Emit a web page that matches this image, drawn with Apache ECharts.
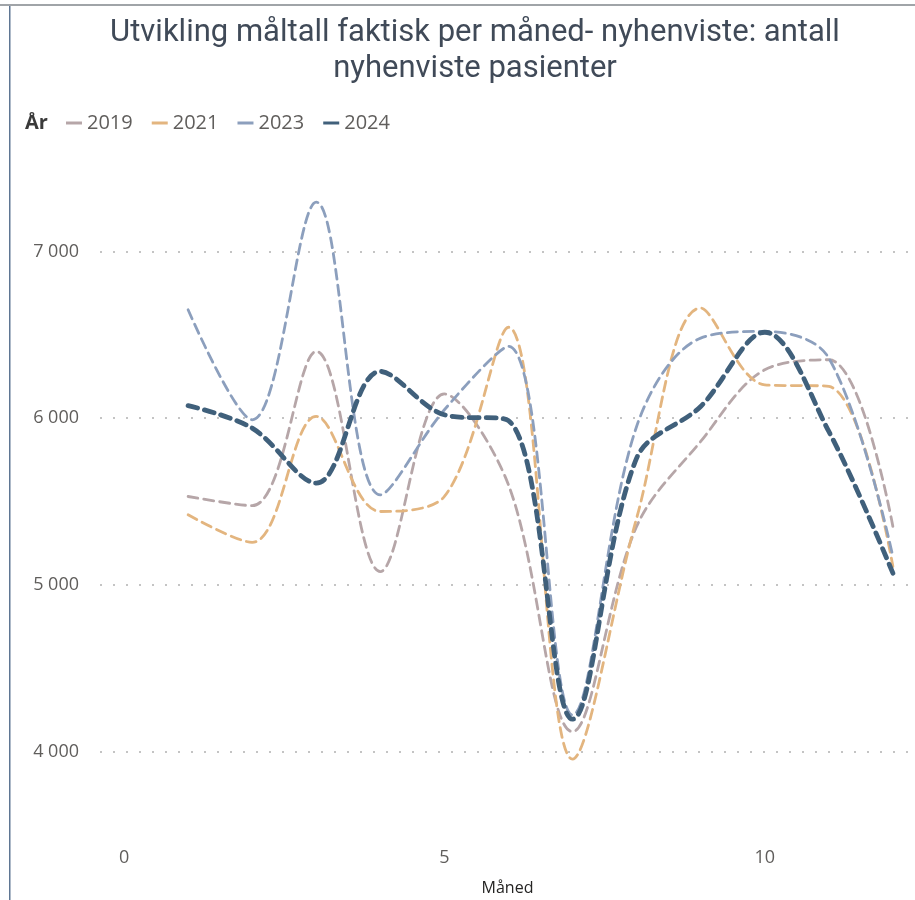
<!DOCTYPE html>
<html>
<head>
<meta charset="utf-8">
<title>Utvikling måltall</title>
<script src="https://cdn.jsdelivr.net/npm/echarts@6/dist/echarts.min.js"></script>
<style>
  html, body { margin: 0; padding: 0; background: #fff; }
  #chart { width: 915px; height: 900px; }
</style>
</head>
<body>
<div id="chart"></div>
<script>
// data (antall nyhenviste per måned)
var months = [1, 2, 3, 4, 5, 6, 7, 8, 9, 10, 11, 12]
var years = ['2019', '2021', '2023', '2024']
var y2019 = [5530, 5475, 6400, 5080, 6145, 5600, 4120, 5350, 5860, 6290, 6350, 5350]
var y2021 = [5420, 5255, 6010, 5440, 5530, 6545, 3955, 5400, 6660, 6200, 6190, 5110]
var y2023 = [6650, 5990, 7295, 5540, 6050, 6430, 4220, 5950, 6480, 6520, 6360, 5170]
var y2024 = [6075, 5940, 5610, 6280, 6020, 5985, 4195, 5760, 6070, 6515, 5920, 5070]
var yTicks = [4000, 5000, 6000, 7000]
var xTicks = [0, 5, 10]

var colors = ['#b6a6a8', '#e3b57f', '#8c9fbd', '#40607b']

function pairs(vals) {
  return months.map(function(m, i) { return [m, vals[i]] })
}

function fmt(v) {
  return String(v).replace(/\B(?=(\d{3})+(?!\d))/g, ' ')
}

function lineSeries(name, vals, color, thick) {
  return {
    name: name,
    type: 'line',
    smooth: 0.35,
    symbol: 'none',
    data: pairs(vals),
    lineStyle: {
      color: color,
      width: thick ? 4.8 : 2.8,
      type: thick ? [10, 7] : [10, 6],
      cap: 'round'
    },
    itemStyle: { color: color }
  }
}

var chart = echarts.init(document.getElementById('chart'))
chart.setOption({
  animation: false,
  title: {
    text: 'Utvikling måltall faktisk per måned- nyhenviste: antall\nnyhenviste pasienter',
    left: 470,
    textAlign: 'center',
    top: 10,
    textStyle: {
      fontFamily: 'Roboto, sans-serif',
      fontSize: 31,
      fontWeight: 'normal',
      color: '#404a58',
      lineHeight: 36
    }
  },
  graphic: [
    // frame lines like the report tile
    { type: 'rect', shape: { x: 0, y: 4, width: 915, height: 2 }, style: { fill: '#a0a4a8' } },
    { type: 'rect', shape: { x: 9, y: 6, width: 1.5, height: 894 }, style: { fill: '#5f7693' } },
    {
      type: 'text', left: 25, top: 113,
      style: { text: 'År', font: 'bold 20px "Open Sans", sans-serif', fill: '#3a3a3a' }
    }
  ],
  legend: {
    data: years,
    left: 66,
    top: 113,
    padding: 0,
    icon: 'rect',
    itemWidth: 16,
    itemHeight: 3,
    itemGap: 19,
    itemTextGap: 8,
    textStyle: {
      fontFamily: 'Open Sans, sans-serif',
      fontSize: 20,
      color: '#605e5c'
    }
  },
  grid: {
    left: 100,
    top: 168,
    width: 815,
    height: 667,
    outerBoundsMode: 'none',
    containLabel: false
  },
  xAxis: {
    type: 'value',
    min: -0.375,
    max: 12.345,
    name: 'Måned',
    nameLocation: 'middle',
    nameGap: 45,
    nameTextStyle: {
      fontFamily: 'Open Sans, sans-serif',
      fontSize: 16,
      color: '#252423'
    },
    axisLine: { show: false },
    axisTick: { show: false, customValues: xTicks },
    splitLine: { show: false },
    axisLabel: {
      customValues: xTicks,
      margin: 14,
      fontFamily: 'Open Sans, sans-serif',
      fontSize: 18,
      color: '#605e5c'
    }
  },
  yAxis: {
    type: 'value',
    min: 3500,
    max: 7500,
    axisLine: { show: false },
    axisTick: { show: false, customValues: yTicks },
    axisLabel: {
      customValues: yTicks,
      margin: 21,
      fontFamily: 'Open Sans, sans-serif',
      fontSize: 18,
      color: '#605e5c',
      formatter: fmt
    },
    splitLine: {
      show: true,
      lineStyle: { color: '#c4c4c4', type: [2, 11], width: 2 }
    }
  },
  series: [
    lineSeries(years[0], y2019, colors[0], false),
    lineSeries(years[1], y2021, colors[1], false),
    lineSeries(years[2], y2023, colors[2], false),
    lineSeries(years[3], y2024, colors[3], true)
  ]
})
</script>
</body>
</html>
